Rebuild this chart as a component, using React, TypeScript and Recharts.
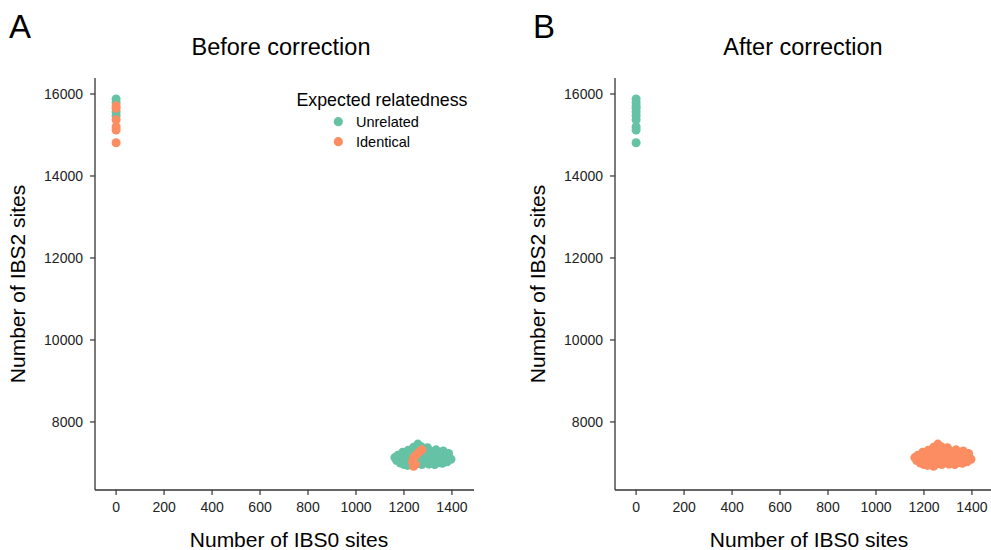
import React from 'react';
import { ScatterChart, Scatter, XAxis, YAxis, ZAxis } from 'recharts';

const TEAL = '#66c2a5';
const ORANGE = '#fc8d62';
const FONT = '"Liberation Sans", Arial, Helvetica, sans-serif';
const AXIS = '#333333';

// Categories
const categories = ['Unrelated', 'Identical'];
const legendTitle = 'Expected relatedness';

// Pairs sitting at IBS0 = 0 (top-left group)
const topIbs0 = [0, 0, 0, 0, 0, 0, 0, 0, 0, 0];
const topIbs2 = [15880, 15790, 15710, 15650, 15560, 15470, 15370, 15200, 15120, 14810];
const topBefore = ['Unrelated', 'Unrelated', 'Identical', 'Identical', 'Unrelated', 'Unrelated', 'Identical', 'Identical', 'Identical', 'Identical'];
const topAfter = ['Unrelated', 'Unrelated', 'Unrelated', 'Unrelated', 'Unrelated', 'Unrelated', 'Unrelated', 'Unrelated', 'Unrelated', 'Unrelated'];

// Pairs in the bottom-right cluster
const clusterIbs0 = [
  1162, 1170, 1175, 1185, 1188, 1195, 1200, 1205, 1210, 1215, 1218, 1222, 1228, 1232, 1236, 1240, 1248,
  1252, 1258, 1262, 1266, 1270, 1274, 1280, 1285, 1290, 1294, 1298, 1304, 1308, 1314, 1318, 1324, 1328,
  1334, 1338, 1344, 1348, 1354, 1360, 1364, 1370, 1374, 1380, 1386, 1390, 1396, 1378, 1300, 1260, 1230,
  1275, 1262, 1250, 1240, 1236, 1248, 1240,
];
const clusterIbs2 = [
  7130, 7060, 7190, 7000, 7120, 7260, 6960, 7070, 7180, 6940, 7310, 7020, 7120, 7230, 6960, 7380, 7060,
  7300, 7460, 7000, 7190, 7400, 6960, 7100, 7300, 7030, 7210, 7370, 6970, 7120, 7280, 7040, 7190, 6960,
  7320, 7100, 7010, 7230, 7120, 6990, 7290, 7060, 7180, 7030, 7230, 7110, 7090, 7120, 7070, 7250, 7180,
  7320, 7260, 7190, 7120, 7030, 6960, 6920,
];
const clusterBefore = [
  'Unrelated', 'Unrelated', 'Unrelated', 'Unrelated', 'Unrelated', 'Unrelated', 'Unrelated', 'Unrelated', 'Unrelated', 'Unrelated',
  'Unrelated', 'Unrelated', 'Unrelated', 'Unrelated', 'Unrelated', 'Unrelated', 'Unrelated', 'Unrelated', 'Unrelated', 'Unrelated',
  'Unrelated', 'Unrelated', 'Unrelated', 'Unrelated', 'Unrelated', 'Unrelated', 'Unrelated', 'Unrelated', 'Unrelated', 'Unrelated',
  'Unrelated', 'Unrelated', 'Unrelated', 'Unrelated', 'Unrelated', 'Unrelated', 'Unrelated', 'Unrelated', 'Unrelated', 'Unrelated',
  'Unrelated', 'Unrelated', 'Unrelated', 'Unrelated', 'Unrelated', 'Unrelated', 'Unrelated', 'Unrelated', 'Unrelated', 'Unrelated',
  'Unrelated',
  'Identical', 'Identical', 'Identical', 'Identical', 'Identical', 'Identical', 'Identical',
];
const clusterAfter = clusterBefore.map(() => 'Identical');

// Ticks
const xTicks = [0, 200, 400, 600, 800, 1000, 1200, 1400];
const yTicks = [8000, 10000, 12000, 14000, 16000];

const allIbs0 = [...topIbs0, ...clusterIbs0];
const allIbs2 = [...topIbs2, ...clusterIbs2];
const labelsBefore = [...topBefore, ...clusterBefore];
const labelsAfter = [...topAfter, ...clusterAfter];

function pointsFor(labels: string[], cat: string) {
  const out: { x: number; y: number }[] = [];
  labels.forEach((l, i) => {
    if (l === cat) out.push({ x: allIbs0[i], y: allIbs2[i] });
  });
  return out;
}

const colorOf: Record<string, string> = { Unrelated: TEAL, Identical: ORANGE };

function Panel({ labels }: { labels: string[] }) {
  return (
    <ScatterChart width={495} height={550} margin={{ top: 78, right: 21, bottom: 30, left: 35 }}>
      <XAxis
        type="number"
        dataKey="x"
        domain={[-88, 1492]}
        allowDataOverflow
        ticks={xTicks}
        interval={0}
        height={30}
        tickSize={5}
        tickMargin={7}
        axisLine={{ stroke: AXIS, strokeWidth: 1.3 }}
        tickLine={{ stroke: AXIS, strokeWidth: 1.2 }}
        tick={{ fontSize: 14, fill: '#222', fontFamily: FONT }}
      />
      <YAxis
        type="number"
        dataKey="y"
        domain={[6340, 16390]}
        allowDataOverflow
        ticks={yTicks}
        interval={0}
        width={60}
        tickSize={5}
        tickMargin={7}
        axisLine={{ stroke: AXIS, strokeWidth: 1.3 }}
        tickLine={{ stroke: AXIS, strokeWidth: 1.2 }}
        tick={{ fontSize: 14, fill: '#222', fontFamily: FONT }}
      />
      <ZAxis range={[70, 70]} />
      {categories.map((c) => (
        <Scatter key={c} name={c} data={pointsFor(labels, c)} fill={colorOf[c]} isAnimationActive={false} />
      ))}
    </ScatterChart>
  );
}

export default function App() {
  return (
    <div
      style={{
        position: 'absolute',
        left: 0,
        top: 0,
        width: 991,
        height: 550,
        overflow: 'hidden',
        background: '#fff',
        fontFamily: FONT,
      }}
    >
      <div style={{ position: 'absolute', left: 0, top: 0 }}>
        <Panel labels={labelsBefore} />
      </div>
      <div style={{ position: 'absolute', left: 520, top: 0 }}>
        <Panel labels={labelsAfter} />
      </div>
      <svg
        width={991}
        height={550}
        style={{ position: 'absolute', left: 0, top: 0, pointerEvents: 'none' }}
        fontFamily={FONT}
      >
        <text x={9} y={38} fontSize={33} fill="#000">A</text>
        <text x={533} y={38} fontSize={33} fill="#000">B</text>
        <text x={281} y={55} fontSize={23.5} textAnchor="middle" fill="#000">Before correction</text>
        <text x={803} y={55} fontSize={23.5} textAnchor="middle" fill="#000">After correction</text>
        <text x={289} y={547} fontSize={21} textAnchor="middle" fill="#000">Number of IBS0 sites</text>
        <text x={809} y={547} fontSize={21} textAnchor="middle" fill="#000">Number of IBS0 sites</text>
        <text x={25} y={284} fontSize={21} textAnchor="middle" fill="#000" transform="rotate(-90 25 284)">Number of IBS2 sites</text>
        <text x={545} y={284} fontSize={21} textAnchor="middle" fill="#000" transform="rotate(-90 545 284)">Number of IBS2 sites</text>
        <text x={382} y={106} fontSize={17.8} textAnchor="middle" fill="#000">{legendTitle}</text>
        {categories.map((c, i) => (
          <g key={c}>
            <circle cx={338.3} cy={121.7 + i * 20} r={4.6} fill={colorOf[c]} />
            <text x={356} y={126.7 + i * 20} fontSize={14.5} fill="#000">{c}</text>
          </g>
        ))}
      </svg>
    </div>
  );
}
